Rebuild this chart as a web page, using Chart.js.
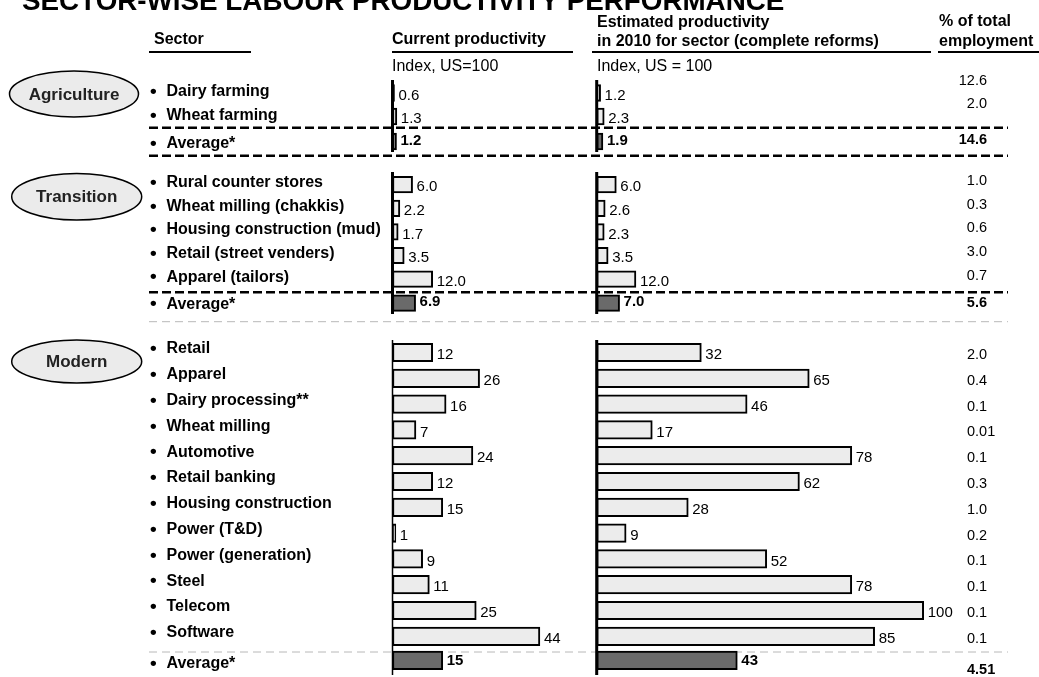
<!DOCTYPE html>
<html>
<head>
<meta charset="utf-8">
<title>Sector-wise labour productivity performance</title>
<script src="https://cdn.jsdelivr.net/npm/chart.js@4.4.1/dist/chart.umd.min.js"></script>
<style>
  html, body { margin: 0; padding: 0; background: #fff; }
  #page { position: relative; width: 1039px; height: 677px; overflow: hidden; }
  #page canvas { position: absolute; left: 0; top: 0; }
</style>
</head>
<body>
<div id="page">
  <canvas id="currentChart" width="1039" height="677"></canvas>
  <canvas id="estimatedChart" width="1039" height="677"></canvas>
</div>
<script>
const FONT = '"Liberation Sans", Arial, Helvetica, sans-serif';

// --- data (last entry of every group is the group average) ---
const groupNames = ["Agriculture", "Transition", "Modern"];

const agricultureSectors = ["Dairy farming", "Wheat farming", "Average*"];
const transitionSectors = [
  "Rural counter stores",
  "Wheat milling (chakkis)",
  "Housing construction (mud)",
  "Retail (street venders)",
  "Apparel (tailors)",
  "Average*",
];
const modernSectors = [
  "Retail",
  "Apparel",
  "Dairy processing**",
  "Wheat milling",
  "Automotive",
  "Retail banking",
  "Housing construction",
  "Power (T&D)",
  "Power (generation)",
  "Steel",
  "Telecom",
  "Software",
  "Average*",
];

// current productivity, index US = 100
const agricultureCurrent = [0.6, 1.3, 1.2];
const transitionCurrent = [6.0, 2.2, 1.7, 3.5, 12.0, 6.9];
const modernCurrent = [12, 26, 16, 7, 24, 12, 15, 1, 9, 11, 25, 44, 15];

// estimated productivity in 2010 with complete reforms, index US = 100
const agricultureEstimated = [1.2, 2.3, 1.9];
const transitionEstimated = [6.0, 2.6, 2.3, 3.5, 12.0, 7.0];
const modernEstimated = [32, 65, 46, 17, 78, 62, 28, 9, 52, 78, 100, 85, 43];

// % of total employment
const agricultureEmployment = [12.6, 2.0, 14.6];
const transitionEmployment = [1.0, 0.3, 0.6, 3.0, 0.7, 5.6];
const modernEmployment = [2.0, 0.4, 0.1, 0.01, 0.1, 0.3, 1.0, 0.2, 0.1, 0.1, 0.1, 0.1, 4.51];

const groups = [
  { sectors: agricultureSectors, current: agricultureCurrent, estimated: agricultureEstimated, employment: agricultureEmployment },
  { sectors: transitionSectors, current: transitionCurrent, estimated: transitionEstimated, employment: transitionEmployment },
  { sectors: modernSectors, current: modernCurrent, estimated: modernEstimated, employment: modernEmployment },
];

// --- layout / style ---
const PAGE_W = 1039;
const PAGE_H = 677;
const BAR_FILL = "#ececec";
const AVG_FILL = "#6a6a6a";

const LAYOUT = [
  {
    top: 93, step: 23.5, avgGap: 25, thickness: 17, axis: [80, 152], pill: [74, 94, 64.5, 23],
    textDy: -1, avgTextDy: 2.5, valueDy: 2.5, avgValueDy: -1,
    empDy: -12.5, avgEmpDy: -2, empAlign: "right", decimals: 1,
    lineAbove: [-13.8, "black"], lineBelow: [14.2, "black"],
  },
  {
    top: 184.7, step: 23.6, avgGap: 24, thickness: 16.5, axis: [172, 314], pill: [76.7, 196.7, 65, 23.3],
    textDy: -2, avgTextDy: 1, valueDy: 2.5, avgValueDy: -1,
    empDy: -3.5, avgEmpDy: 0, empAlign: "right", decimals: 1,
    lineAbove: [-10.8, "black"], lineBelow: [18.6, "grey"],
  },
  {
    top: 352.5, step: 25.8, avgGap: 24, thickness: 18.5, axis: [340, 675], pill: [76.7, 361.5, 65, 21.5],
    textDy: -3.5, avgTextDy: 3, valueDy: 2.5, avgValueDy: 1,
    empDy: 2.5, avgEmpDy: 10, empAlign: "left", decimals: 0,
    lineAbove: [-8.3, "grey"], lineBelow: null,
  },
];

function rowPositions(groupIndex) {
  let lay = LAYOUT[groupIndex];
  let n = groups[groupIndex].sectors.length;
  let rows = [];
  for (let i = 0; i < n - 1; i++) {
    rows.push(lay.top + i * lay.step);
  }
  rows.push(rows[n - 2] + lay.avgGap);
  return rows;
}

function formatEmployment(v) {
  return Math.round(v * 10) === v * 10 ? v.toFixed(1) : String(v);
}

function drawDashed(ctx, y, style) {
  ctx.save();
  if (style == "black") {
    ctx.strokeStyle = "#000";
    ctx.lineWidth = 2.5;
    ctx.setLineDash([9, 4]);
  } else {
    ctx.strokeStyle = "#b8b8b8";
    ctx.lineWidth = 1;
    ctx.setLineDash([8, 5]);
  }
  ctx.beginPath();
  ctx.moveTo(149, y);
  ctx.lineTo(1008, y);
  ctx.stroke();
  ctx.restore();
}

function drawUnderline(ctx, x1, x2, y) {
  ctx.save();
  ctx.strokeStyle = "#000";
  ctx.lineWidth = 2;
  ctx.beginPath();
  ctx.moveTo(x1, y);
  ctx.lineTo(x2, y);
  ctx.stroke();
  ctx.restore();
}

// title, headers, sector names, employment column and separators
const pagePlugin = {
  id: "pageText",
  beforeDatasetsDraw(chart) {
    let ctx = chart.ctx;
    let yScale = chart.scales.y;
    groups.forEach((g, gi) => {
      let lay = LAYOUT[gi];
      let rows = rowPositions(gi);
      let avgY = rows[rows.length - 1];
      if (lay.lineAbove) drawDashed(ctx, yScale.getPixelForValue(avgY + lay.lineAbove[0]), lay.lineAbove[1]);
      if (lay.lineBelow) drawDashed(ctx, yScale.getPixelForValue(avgY + lay.lineBelow[0]), lay.lineBelow[1]);
    });
  },
  afterDraw(chart) {
    let ctx = chart.ctx;
    let yScale = chart.scales.y;
    ctx.save();
    ctx.fillStyle = "#000";

    // title
    ctx.textBaseline = "alphabetic";
    ctx.textAlign = "left";
    ctx.font = `bold 27.8px ${FONT}`;
    ctx.fillText("SECTOR-WISE LABOUR PRODUCTIVITY PERFORMANCE", 22, 10);

    // column headers
    ctx.textBaseline = "middle";
    ctx.font = `bold 16px ${FONT}`;
    ctx.fillText("Sector", 154, 40);
    ctx.fillText("Current productivity", 392, 39.5);
    ctx.fillText("Estimated productivity", 597, 22.5);
    ctx.fillText("in 2010 for sector (complete reforms)", 597, 41.5);
    ctx.fillText("% of total", 939, 21.5);
    ctx.fillText("employment", 939, 41.5);
    drawUnderline(ctx, 149, 251, 52);
    drawUnderline(ctx, 392, 573, 52);
    drawUnderline(ctx, 592, 931, 52);
    drawUnderline(ctx, 938, 1039, 52);

    ctx.font = `16px ${FONT}`;
    ctx.fillText("Index, US=100", 392, 67);
    ctx.fillText("Index, US = 100", 597, 67);

    groups.forEach((g, gi) => {
      let lay = LAYOUT[gi];
      let rows = rowPositions(gi);
      let last = rows.length - 1;

      // group pill
      let [cx, cy, rx, ry] = lay.pill;
      ctx.beginPath();
      ctx.ellipse(cx, cy, rx, ry, 0, 0, Math.PI * 2);
      ctx.fillStyle = "#ebebeb";
      ctx.fill();
      ctx.lineWidth = 1.5;
      ctx.strokeStyle = "#000";
      ctx.stroke();
      ctx.fillStyle = "#222";
      ctx.font = `bold 17px ${FONT}`;
      ctx.textAlign = "center";
      ctx.fillText(groupNames[gi], cx, cy + 1);

      // sector names with bullets
      ctx.fillStyle = "#000";
      ctx.textAlign = "left";
      g.sectors.forEach((name, i) => {
        let y = yScale.getPixelForValue(rows[i]) + (i === last ? lay.avgTextDy : lay.textDy);
        ctx.font = `bold 19px ${FONT}`;
        ctx.fillText("\u2022", 150, y);
        ctx.font = `bold 16px ${FONT}`;
        ctx.fillText(name, 166.5, y);
      });

      // employment share
      g.employment.forEach((v, i) => {
        let y = yScale.getPixelForValue(rows[i]) + (i === last ? lay.avgEmpDy : lay.empDy);
        ctx.font = `${i === last ? "bold " : ""}14.5px ${FONT}`;
        if (lay.empAlign == "right") {
          ctx.textAlign = "right";
          ctx.fillText(formatEmployment(v), 987, y);
        } else {
          ctx.textAlign = "left";
          ctx.fillText(formatEmployment(v), 967, y);
        }
      });
    });
    ctx.restore();
  },
};

// vertical axis lines and value labels next to each bar
function barExtrasPlugin(axisWidths) {
  return {
    id: "barExtras",
    afterDatasetsDraw(chart) {
      let ctx = chart.ctx;
      let x0 = chart.scales.x.getPixelForValue(0);
      let yScale = chart.scales.y;
      ctx.save();
      groups.forEach((g, gi) => {
        let lay = LAYOUT[gi];
        ctx.strokeStyle = "#000";
        ctx.lineWidth = axisWidths[gi];
        ctx.beginPath();
        ctx.moveTo(x0, yScale.getPixelForValue(lay.axis[0]));
        ctx.lineTo(x0, yScale.getPixelForValue(lay.axis[1]));
        ctx.stroke();

        let meta = chart.getDatasetMeta(gi);
        let values = chart.data.datasets[gi].data;
        let last = values.length - 1;
        ctx.fillStyle = "#000";
        ctx.textAlign = "left";
        ctx.textBaseline = "middle";
        meta.data.forEach((bar, i) => {
          let isAvg = i === last;
          ctx.font = `${isAvg ? "bold " : ""}15px ${FONT}`;
          let label = values[i].x.toFixed(lay.decimals);
          ctx.fillText(label, bar.x + 4, bar.y + (isAvg ? lay.avgValueDy : lay.valueDy));
        });
      });
      ctx.restore();
    },
  };
}

function buildDatasets(key) {
  return groups.map((g, gi) => {
    let rows = rowPositions(gi);
    let values = g[key];
    return {
      data: values.map((v, i) => ({ x: v, y: rows[i] })),
      backgroundColor: values.map((v, i) => (i === values.length - 1 ? AVG_FILL : BAR_FILL)),
      borderColor: "#000",
      borderWidth: 2,
      borderSkipped: false,
      barThickness: LAYOUT[gi].thickness,
      grouped: false,
    };
  });
}

function renderColumn(canvasId, key, xMax, left, right, axisWidths, extraPlugins) {
  const ctx = document.getElementById(canvasId);
  new Chart(ctx, {
    type: "bar",
    data: { datasets: buildDatasets(key) },
    options: {
      indexAxis: "y",
      responsive: false,
      animation: false,
      layout: { padding: { left: left, right: PAGE_W - right, top: 0, bottom: 0 } },
      scales: {
        x: { type: "linear", min: 0, max: xMax, display: false },
        y: { type: "linear", min: 0, max: PAGE_H, reverse: true, offset: false, display: false },
      },
      plugins: { legend: { display: false }, tooltip: { enabled: false } },
    },
    plugins: [barExtrasPlugin(axisWidths)].concat(extraPlugins),
  });
}

renderColumn("currentChart", "current", 50, 392.5, 560, [3, 3, 1.5], [pagePlugin]);
renderColumn("estimatedChart", "estimated", 110, 596.7, 956.4, [3, 3, 3], []);
</script>
</body>
</html>
